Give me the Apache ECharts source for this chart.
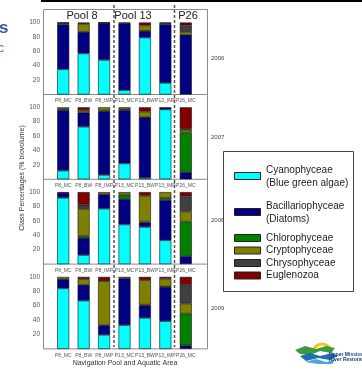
<!DOCTYPE html>
<html><head><meta charset="utf-8">
<script src="https://cdn.jsdelivr.net/npm/echarts@6/dist/echarts.min.js"></script>
<style>html,body{margin:0;padding:0;background:#fff}#c{width:362px;height:370px}</style>
</head><body><div id="c"></div>
<script>
const categories = ['P8_MC','P8_BW','P8_IMP','P13_MC','P13_BW','P13_IMP','P26_MC'];
const years = ['2006','2007','2008','2009'];
const yTicks = [20,40,60,80,100];
const classNames = ['Cyanophyceae','Bacillariophyceae','Chlorophyceae','Cryptophyceae','Chrysophyceae','Euglenozoa'];
const classColors = ['#00FFFF','#000080','#008000','#808000','#404040','#800000'];
// each row = one year (2006..2009), values in % biovolume per category
const cyanophyceae = [
  [35, 57, 48, 6, 79, 16, 0],
  [12, 73, 6, 22, 2, 97, 0],
  [92, 12.5, 77, 55, 51.5, 33, 0],
  [84, 67, 19.5, 33, 43, 38.5, 0]
];
const bacillariophyceae = [
  [62.5, 30, 51, 93, 9, 81.5, 83],
  [84, 20, 88.5, 74, 83.5, 3, 10],
  [7, 24, 20, 35.5, 6, 56, 11],
  [13, 22, 13.5, 65, 17.5, 47.5, 5]
];
const chlorophyceae = [
  [2, 0, 0, 0, 0.5, 0, 0],
  [1.5, 0, 1, 1.5, 0.5, 0, 55],
  [0, 3, 0, 6, 1.5, 3, 48],
  [0, 0, 0, 0, 1, 0.5, 44]
];
const cryptophyceae = [
  [0, 11, 0.5, 1, 7.5, 1.5, 4],
  [2.5, 3, 4.5, 2.5, 8, 0, 4],
  [1, 37, 3, 3.5, 36, 8, 14],
  [3, 8, 61, 2, 34, 11, 14]
];
const chrysophyceae = [
  [0, 0, 0.5, 0, 0, 1, 9],
  [0, 0, 0, 0, 0, 0, 1],
  [0, 6, 0, 0, 0, 0, 21],
  [0, 0, 0, 0, 0, 0, 26]
];
const euglenozoa = [
  [0.5, 2, 0, 0, 4, 0, 4],
  [0, 4, 0, 0, 6, 0, 30],
  [0, 17.5, 0, 0, 5, 0, 6],
  [0, 3, 6, 0, 4.5, 2.5, 11]
];
const poolLabels = ['Pool 8','Pool 13','P26'];
const legendLabels = [['Cyanophyceae','(Blue green algae)'],['Bacillariophyceae','(Diatoms)'],['Chlorophyceae'],['Cryptophyceae'],['Chrysophyceae'],['Euglenozoa']];

const classData = [cyanophyceae, bacillariophyceae, chlorophyceae, cryptophyceae, chrysophyceae, euglenozoa];

const chart = echarts.init(document.getElementById('c'), null, {renderer:'canvas'});
const F = 'Liberation Sans, Arial, sans-serif';
const pitch = 84.8, top0 = 22.5, gh = 72;
const grids = [], xAxes = [], yAxes = [], series = [];
years.forEach((y, i) => {
  grids.push({left:53, width:143, top: top0 + pitch*i, height: gh});
  xAxes.push({type:'category', gridIndex:i, data:categories, axisLine:{show:false}, axisTick:{show:false},
    axisLabel:{interval:0, fontSize:5, color:'#555', margin:4, fontFamily:F}});
  yAxes.push({type:'value', gridIndex:i, min:0, max:100, interval:20, offset:10,
    axisLine:{show:false}, axisTick:{show:false}, splitLine:{show:false},
    axisLabel:{fontSize:6.5, color:'#555', margin:3, fontFamily:F, formatter: v => yTicks.includes(v) ? String(v) : ''}});
  classData.forEach((arr, k) => {
    series.push({type:'bar', name:classNames[k], xAxisIndex:i, yAxisIndex:i, stack:'s'+i, barWidth:12,
      itemStyle:{color:classColors[k], borderColor:'#111', borderWidth:0.6},
      data: arr[i].map(v => v === 0 ? '-' : v), animation:false});
  });
});

const g = [];
const lc = '#8a8a8a';
const bottoms = years.map((y,i) => top0 + pitch*i + gh);
// frame
g.push({type:'line', shape:{x1:43.5,y1:9.5,x2:43.5,y2:bottoms[3]}, style:{stroke:lc, lineWidth:1}});
g.push({type:'line', shape:{x1:207.5,y1:9.5,x2:207.5,y2:bottoms[3]}, style:{stroke:lc, lineWidth:1}});
g.push({type:'line', shape:{x1:43.5,y1:9.5,x2:207.5,y2:9.5}, style:{stroke:lc, lineWidth:1}});
bottoms.forEach(b => g.push({type:'line', shape:{x1:43.5,y1:b,x2:207.5,y2:b}, style:{stroke:lc, lineWidth:1}}));
// dashed separators
[114, 174.5].forEach(x => g.push({type:'line', z:10, shape:{x1:x,y1:5,x2:x,y2:347}, style:{stroke:'#555', lineWidth:1.5, lineDash:[3,2]}}));
// top rule
g.push({type:'line', shape:{x1:41,y1:1,x2:362,y2:1}, style:{stroke:'#000', lineWidth:2}});
// pool labels
[[82,poolLabels[0]],[133,poolLabels[1]],[188,poolLabels[2]]].forEach(p => g.push({type:'text', z:20, style:{text:p[1], x:p[0], y:15.5, textAlign:'center', textVerticalAlign:'middle', font:'11px '+F, fill:'#222'}}));
// year labels
const yearY = [58, 137, 220, 308];
years.forEach((y,i) => g.push({type:'text', style:{text:y, x:211, y:yearY[i], textAlign:'left', textVerticalAlign:'middle', font:'6px '+F, fill:'#444'}}));
// axis titles
g.push({type:'text', style:{text:'Navigation Pool and Aquatic Area', x:125, y:363, textAlign:'center', textVerticalAlign:'middle', font:'7px '+F, fill:'#333'}});
g.push({type:'text', rotation:Math.PI/2, x:22, y:178, style:{text:'Class Percentages (% biovolume)', x:0, y:0, textAlign:'center', textVerticalAlign:'middle', font:'7px '+F, fill:'#333'}});
// legend box
g.push({type:'rect', shape:{x:223.5,y:151.5,width:130,height:140}, style:{fill:'#fff', stroke:'#444', lineWidth:1}});
const legY = [176, 212, 238, 250.5, 263, 275.5];
legendLabels.forEach((lab, k) => {
  const cy = legY[k];
  g.push({type:'rect', shape:{x:234.5, y:cy-3.5, width:26, height:7}, style:{fill:classColors[k], stroke:'#222', lineWidth:1}});
  if (lab.length === 2) {
    g.push({type:'text', style:{text:lab[0], x:266, y:cy-6, textAlign:'left', textVerticalAlign:'middle', font:'10px '+F, fill:'#222'}});
    g.push({type:'text', style:{text:lab[1], x:266, y:cy+7, textAlign:'left', textVerticalAlign:'middle', font:'10px '+F, fill:'#222'}});
  } else {
    g.push({type:'text', style:{text:lab[0], x:266, y:cy, textAlign:'left', textVerticalAlign:'middle', font:'10px '+F, fill:'#222'}});
  }
});
// cut-off title fragments
g.push({type:'text', style:{text:'s', x:-1, y:28, textAlign:'left', textVerticalAlign:'middle', font:'bold 17px '+F, fill:'#2d5b9a'}});
g.push({type:'text', style:{text:'c', x:-2, y:49, textAlign:'left', textVerticalAlign:'middle', font:'12px '+F, fill:'#4a78b0'}});
// logo
g.push({type:'arc', shape:{cx:322, cy:353, r:9, startAngle:Math.PI*1.05, endAngle:Math.PI*1.95}, style:{stroke:'#f2c318', lineWidth:3, fill:null}});
g.push({type:'polygon', shape:{points:[[295,350],[305,346],[316,349],[326,346],[335,348],[331,353],[320,351],[310,355],[300,354]]}, style:{fill:'#3b9a3f'}});
g.push({type:'polygon', shape:{points:[[300,356],[310,353],[320,356],[332,353],[338,356],[330,360],[318,358],[306,361]]}, style:{fill:'#1f6db5'}});
g.push({type:'polygon', shape:{points:[[305,362],[316,359],[326,362],[336,359],[332,364],[318,364]]}, style:{fill:'#4fa3dc'}});
g.push({type:'text', style:{text:'Upper Mississippi', x:329, y:355, textAlign:'left', textVerticalAlign:'middle', font:'bold 5px '+F, fill:'#1a3f7a'}});
g.push({type:'text', style:{text:'River Restoration', x:329, y:360, textAlign:'left', textVerticalAlign:'middle', font:'bold 5px '+F, fill:'#1a3f7a'}});

chart.setOption({animation:false, grid:grids, xAxis:xAxes, yAxis:yAxes, series:series, graphic:g});
</script></body></html>
